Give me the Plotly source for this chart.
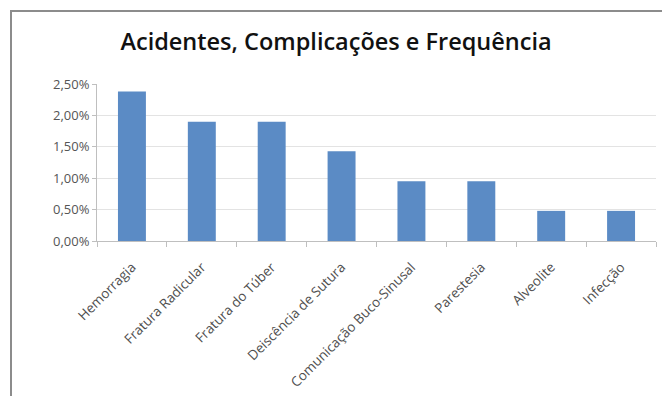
import plotly.graph_objects as go

categories = ["Hemorragia", "Fratura Radicular", "Fratura do Túber", "Deiscência de Sutura",
              "Comunicação Buco-Sinusal", "Parestesia", "Alveolite", "Infecção"]
values = [2.38, 1.90, 1.90, 1.43, 0.95, 0.95, 0.48, 0.48]
y_ticks = [0, 0.5, 1.0, 1.5, 2.0, 2.5]
y_tick_labels = ["0,00%", "0,50%", "1,00%", "1,50%", "2,00%", "2,50%"]

W, H = 662, 396
L, R, T, B = 97, 6, 84, 155
pw = W - L - R
ph = H - T - B

fig = go.Figure(go.Bar(x=categories, y=values, marker=dict(color="#5B8BC5", line=dict(width=0))))

fig.update_layout(
    width=W, height=H,
    margin=dict(l=L, r=R, t=T, b=B),
    paper_bgcolor="white", plot_bgcolor="white",
    bargap=0.6,
    showlegend=False,
    title=dict(text="Acidentes, Complicações e Frequência", x=(336) / W, xanchor="center",
               y=1 - 42 / H, yanchor="middle",
               font=dict(family="Open Sans", size=23.5, color="#111111", weight=600)),
    font=dict(family="Open Sans", color="#555555"),
)
fig.update_yaxes(range=[0, 2.5], tickvals=y_ticks, ticktext=y_tick_labels,
                 showgrid=True, gridcolor="#E3E3E3", gridwidth=1,
                 showline=True, linecolor="#BFBFBF", linewidth=1,
                 ticks="outside", ticklen=4, tickcolor="#BFBFBF",
                 tickfont=dict(size=13, color="#555555"), zeroline=False)
fig.update_xaxes(showline=True, linecolor="#BFBFBF", linewidth=1,
                 ticks="outside", tickson="boundaries", ticklen=5, tickcolor="#BFBFBF",
                 tickangle=-45, ticklabelstandoff=12,
                 tickfont=dict(size=13.5, color="#4F4F4F"))

fig.add_shape(type="rect", xref="paper", yref="paper",
              x0=(11 - L) / pw, x1=(W + 20 - L) / pw,
              y0=-(H + 20 - (H - B)) / ph, y1=(H - B - 11) / ph,
              line=dict(color="#8C8C8C", width=2), fillcolor="rgba(0,0,0,0)", layer="below")

fig.write_html("out.html")
